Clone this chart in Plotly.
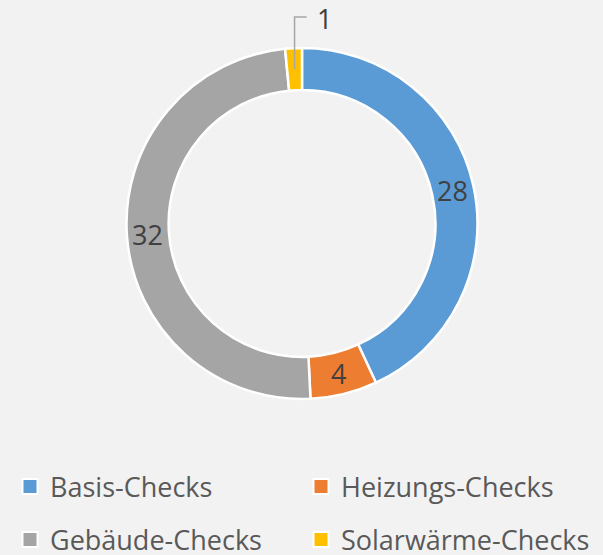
import math

import plotly.graph_objects as go

labels = ["Basis-Checks", "Heizungs-Checks", "Gebäude-Checks", "Solarwärme-Checks"]
values = [28, 4, 32, 1]
colors = ["#5B9BD5", "#ED7D31", "#A5A5A5", "#FFC000"]
legend_rows = [
    ["Basis-Checks", "Heizungs-Checks"],
    ["Gebäude-Checks", "Solarwärme-Checks"],
]

FONT = "Open Sans, DejaVu Sans, sans-serif"
W, H = 603, 555
cx, cy, r_out = 302, 223.5, 175.5
hole = 0.76


def to_paper(px, py):
    return px / W, 1 - py / H


fig = go.Figure()
fig.add_trace(
    go.Pie(
        labels=labels,
        values=values,
        hole=hole,
        sort=False,
        direction="clockwise",
        rotation=0,
        marker={"colors": colors, "line": {"color": "white", "width": 2.5}},
        textinfo="none",
        showlegend=False,
        hoverinfo="label+value",
        domain={
            "x": [(cx - r_out) / W, (cx + r_out) / W],
            "y": [1 - (cy + r_out) / H, 1 - (cy - r_out) / H],
        },
    )
)

# legend entries, one legend per row so the row spacing can be matched
for row_idx, row in enumerate(legend_rows):
    for label in row:
        fig.add_trace(
            go.Scatter(
                x=[None],
                y=[None],
                mode="markers",
                marker={
                    "symbol": "square",
                    "size": 15,
                    "color": colors[labels.index(label)],
                    "line": {"color": "white", "width": 2},
                },
                name=label,
                legend="legend" if row_idx == 0 else "legend2",
            )
        )

# data labels at each slice's mid-angle on the ring (Excel style)
total = sum(values)
r_mid = r_out * (1 + hole) / 2
label_font = {"size": 27, "color": "#404040", "family": FONT}
cum = 0
for i, v in enumerate(values):
    theta = 2 * math.pi * (cum + v / 2) / total
    cum += v
    ax = cx + r_mid * math.sin(theta)
    ay = cy - r_mid * math.cos(theta)
    if i < len(values) - 1:
        px, py = to_paper(ax, ay)
        fig.add_annotation(
            x=px, y=py, xref="paper", yref="paper", text=str(v),
            showarrow=False, xanchor="center", yanchor="middle", font=label_font,
        )
        continue
    # tiny last slice: label above with an elbow leader line
    top_y = cy - r_out - 31
    p0 = to_paper(ax, ay)
    p1 = to_paper(ax, top_y)
    p2 = to_paper(ax + 12, top_y)
    fig.add_shape(
        type="path",
        xref="paper",
        yref="paper",
        path=f"M {p0[0]},{p0[1]} L {p1[0]},{p1[1]} L {p2[0]},{p2[1]}",
        line={"color": "#A6A6A6", "width": 1.5},
    )
    lx, ly = to_paper(ax + 20, top_y + 2)
    fig.add_annotation(
        x=lx, y=ly, xref="paper", yref="paper", text=str(v),
        showarrow=False, xanchor="left", yanchor="middle", font=label_font,
    )

legend_style = {
    "orientation": "h",
    "xanchor": "left",
    "yanchor": "middle",
    "x": 10 / W,
    "entrywidth": 246,
    "entrywidthmode": "pixels",
    "itemwidth": 30,
    "font": {"size": 27, "color": "#595959", "family": FONT},
    "bgcolor": "rgba(0,0,0,0)",
}
fig.update_layout(
    width=W,
    height=H,
    margin={"l": 0, "r": 0, "t": 0, "b": 0, "autoexpand": False},
    paper_bgcolor="#F2F2F2",
    plot_bgcolor="#F2F2F2",
    font={"family": FONT},
    legend={**legend_style, "y": 1 - 487 / H},
    legend2={**legend_style, "y": 1 - 540 / H},
    xaxis={"visible": False},
    yaxis={"visible": False},
)
fig.write_html(
    "out.html",
    config={"displayModeBar": False},
    post_script="document.body.style.margin='0';",
)
